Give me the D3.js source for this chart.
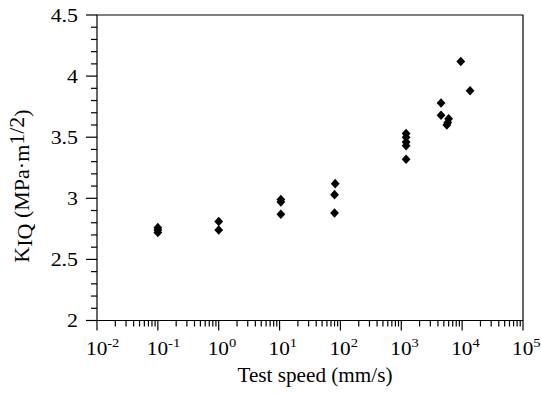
<!DOCTYPE html>
<html><head><meta charset="utf-8">
<script src="https://cdn.jsdelivr.net/npm/d3@7"></script>
<style>body{margin:0;background:#fff}svg{display:block}text{font-family:"Liberation Serif","Times New Roman",serif;fill:#000}</style>
</head><body><svg id="c" width="541" height="395"></svg>
<script>
const speeds = [0.1,0.1,0.1, 1,1, 10.5,10.5,10.5, 82,80,80, 1200,1200,1200,1200,1200, 4500,4500, 6000,5800,5600, 9500, 13500];
const kiq    = [2.76,2.74,2.72, 2.81,2.74, 2.99,2.97,2.87, 3.12,3.03,2.88, 3.53,3.50,3.46,3.43,3.32, 3.78,3.68, 3.65,3.62,3.60, 4.12, 3.88];
const xExponents = [-2,-1,0,1,2,3,4,5];
const yTicks = [2,2.5,3,3.5,4,4.5];
const yTickLabels = ["2","2.5","3","3.5","4","4.5"];

const svg = d3.select("#c");
const L=97, R=523, T=15, B=320.5;
const x = d3.scaleLog().domain([1e-2,1e5]).range([L,R]);
const y = d3.scaleLinear().domain([2,4.5]).range([B,T]);

// frame
svg.append("path").attr("d",`M${L},${B}V${T}H${R}V${B}H${L}`).attr("fill","none").attr("stroke","#000").attr("stroke-width",1.2);

// y ticks
const yMinor = d3.range(20,46).map(v=>v/10);
svg.selectAll(".ym").data(yMinor).join("line")
  .attr("x1",L).attr("x2",d=>L-(Math.abs(d*2-Math.round(d*2))<1e-9?11:6))
  .attr("y1",d=>y(d)).attr("y2",d=>y(d)).attr("stroke","#000").attr("stroke-width",1.2);
svg.selectAll(".yl").data(yTicks).join("text")
  .attr("transform",d=>`translate(78,${y(d)+6.5}) scale(1.15,1)`)
  .attr("text-anchor","end").attr("font-size",19).text((d,i)=>yTickLabels[i]);

// x ticks
const xMinor = [];
xExponents.slice(0,-1).forEach(e=>{for(let k=2;k<=9;k++) xMinor.push(k*Math.pow(10,e));});
svg.selectAll(".xm").data(xMinor).join("line")
  .attr("x1",d=>x(d)).attr("x2",d=>x(d)).attr("y1",B).attr("y2",B+6)
  .attr("stroke","#000").attr("stroke-width",1.2);
svg.selectAll(".xM").data(xExponents).join("line")
  .attr("x1",d=>x(Math.pow(10,d))).attr("x2",d=>x(Math.pow(10,d))).attr("y1",B).attr("y2",B+10)
  .attr("stroke","#000").attr("stroke-width",1.2);
const xl = svg.selectAll(".xl").data(xExponents).join("text")
  .attr("transform",d=>`translate(${x(Math.pow(10,d))-11},355) scale(1.12,1)`)
  .attr("font-size",19);
xl.append("tspan").text("10");
xl.append("tspan").attr("font-size",13).attr("dy",-8).text(d=>String(d));

// axis titles
svg.append("text").attr("transform","translate(315,382) scale(1.06,1)").attr("text-anchor","middle")
  .attr("font-size",20).text("Test speed (mm/s)");
const yt = svg.append("text").attr("transform","translate(29,186) rotate(-90)").attr("text-anchor","middle").attr("font-size",22);
yt.append("tspan").text("K");
yt.append("tspan").attr("dy",3).text("IQ");
yt.append("tspan").attr("dy",-3).text(" (MPa·m");
yt.append("tspan").attr("dy",-5).text("1/2");
yt.append("tspan").attr("dy",5).text(")");

// points
const pts = speeds.map((s,i)=>[s,kiq[i]]);
svg.selectAll(".pt").data(pts).join("path")
  .attr("d",d=>{const cx=x(d[0]), cy=y(d[1]); return `M${cx},${cy-4.8}L${cx+4.4},${cy}L${cx},${cy+4.8}L${cx-4.4},${cy}Z`;})
  .attr("fill","#000");
</script></body></html>
